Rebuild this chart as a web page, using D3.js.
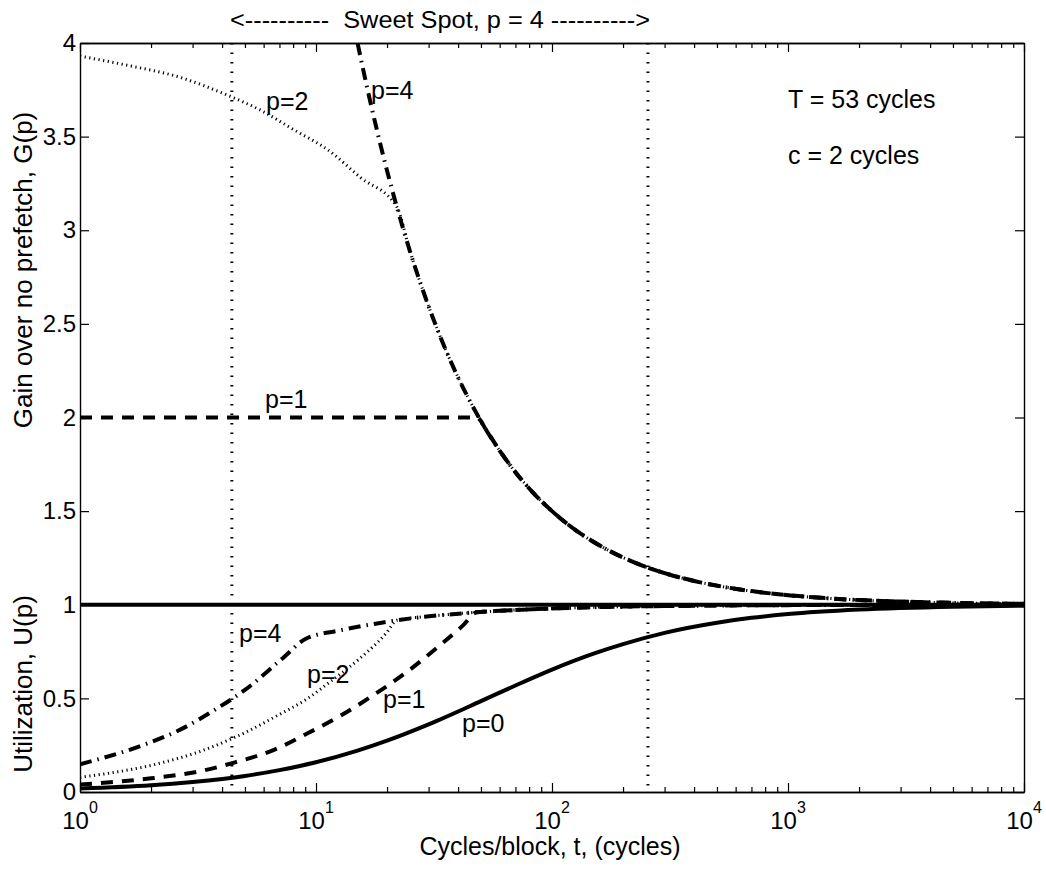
<!DOCTYPE html>
<html><head><meta charset="utf-8">
<script src="https://cdn.jsdelivr.net/npm/d3@7"></script>
<style>
body{margin:0;background:#fff}
text{font-family:"Liberation Sans",Arial,Helvetica,sans-serif;fill:#000}
</style></head>
<body><svg id="c" width="1046" height="869"></svg>
<script>
// ---------- data ----------
const xDecades = [1, 10, 100, 1000, 10000];
const xExponents = ["0", "1", "2", "3", "4"];
const yTicks = [0, 0.5, 1, 1.5, 2, 2.5, 3, 3.5, 4];
const sweetSpot = [4.4, 255];

// Gain over no prefetch, G(p)
const gainP0 = [[1, 1], [10000, 1]];
const gainEnvelope = [[13, 4.4], [15, 4.0], [18, 3.55], [22, 3.125], [25, 2.889], [30, 2.594], [35, 2.378], [40, 2.214], [48, 2.02], [53, 1.927], [60, 1.823], [70, 1.708], [85, 1.586], [100, 1.5], [130, 1.386], [160, 1.315], [200, 1.252], [255, 1.198], [300, 1.169], [400, 1.127], [500, 1.102], [700, 1.073], [1000, 1.051], [1500, 1.034], [2000, 1.025], [3000, 1.017], [5000, 1.010], [10000, 1.005]];
const gainP1Head = [[1, 2], [48, 2]];
const gainP2Head = [[1, 3.93], [1.6, 3.88], [2.6, 3.82], [4.24, 3.72], [5.84, 3.64], [8.1, 3.535], [11.2, 3.43], [15.5, 3.28], [22, 3.125]];

// Utilization, U(p)
const utilP0 = [[1, 0.0185], [2, 0.036], [3, 0.054], [5, 0.086], [7, 0.117], [10, 0.159], [15, 0.221], [20, 0.274], [30, 0.361], [50, 0.485], [70, 0.569], [100, 0.654], [150, 0.739], [200, 0.79], [300, 0.85], [500, 0.904], [700, 0.93], [1000, 0.95], [2000, 0.974], [5000, 0.9896], [10000, 0.9947]];
const utilEnvelope = [[9.1, 0.82], [12.6, 0.863], [18.7, 0.903], [22, 0.917], [29.5, 0.937], [35, 0.946], [48, 0.96], [70, 0.972], [100, 0.98], [150, 0.987], [200, 0.99], [300, 0.993], [500, 0.996], [1000, 0.998], [3000, 0.999], [10000, 1.0]];
const utilP1Head = [[1, 0.04], [2, 0.073], [3.2, 0.11], [4.5, 0.157], [6.6, 0.224], [9.1, 0.31], [12.6, 0.405], [17.4, 0.515], [24.2, 0.64], [33.6, 0.785], [42, 0.89], [48, 0.96]];
const utilP2Head = [[1, 0.078], [2.2, 0.155], [3.2, 0.215], [4.24, 0.276], [5.1, 0.322], [6.6, 0.397], [9.1, 0.495], [11.8, 0.6], [15.3, 0.712], [19.9, 0.85], [22, 0.917]];
const utilP4Head = [[1, 0.148], [1.9, 0.256], [2.6, 0.327], [3.84, 0.449], [5.0, 0.545], [7.25, 0.716], [9.1, 0.82]];

// ---------- layout ----------
const L = 80, R = 1024, T = 43, B = 792;
const svg = d3.select("#c");
const x = d3.scaleLog().domain([1, 10000]).range([L, R]);
const y = d3.scaleLinear().domain([0, 4]).range([B, T]);

svg.append("defs").append("clipPath").attr("id", "plot")
  .append("rect").attr("x", L).attr("y", T).attr("width", R - L).attr("height", B - T);

const after = (arr, t0) => arr.filter(d => d[0] > t0);
const series = [
  {d: gainP0, s: "solid"},
  {d: gainP1Head.concat(after(gainEnvelope, 48)), s: "dashed"},
  {d: gainP2Head.concat(after(gainEnvelope, 22)), s: "dotted"},
  {d: gainEnvelope, s: "dashdot"},
  {d: utilP0, s: "solid"},
  {d: utilP1Head.concat(after(utilEnvelope, 48)), s: "dashed"},
  {d: utilP2Head.concat(after(utilEnvelope, 22)), s: "dotted"},
  {d: utilP4Head.concat(after(utilEnvelope, 9.1)), s: "dashdot"}
];
const styles = {
  solid: {w: 4, da: null},
  dashed: {w: 4, da: "12,9"},
  dotted: {w: 3, da: "1.2,3.5"},
  dashdot: {w: 4, da: "12,6,1.5,6"}
};

const plot = svg.append("g").attr("clip-path", "url(#plot)");

// sweet spot verticals
plot.selectAll("line.ss").data(sweetSpot).join("line")
  .attr("x1", d => x(d)).attr("x2", d => x(d)).attr("y1", T).attr("y2", B)
  .attr("stroke", "#000").attr("stroke-width", 3).attr("stroke-dasharray", "1.5,8");

const line = d3.line().x(d => x(d[0])).y(d => y(d[1])).curve(d3.curveMonotoneX);
plot.selectAll("path.s").data(series).join("path")
  .attr("d", d => line(d.d)).attr("fill", "none").attr("stroke", "#000")
  .attr("stroke-width", d => styles[d.s].w)
  .attr("stroke-dasharray", d => styles[d.s].da)
  .attr("stroke-linecap", "butt").attr("stroke-linejoin", "round");

// ---------- axes ----------
const minors = [];
for (let e = 0; e < 4; e++) for (let k = 2; k <= 9; k++) minors.push(k * Math.pow(10, e));
function style(g) {
  g.selectAll("path.domain").attr("stroke", "#000").attr("stroke-width", 1.4);
  g.selectAll(".tick line").attr("stroke", "#000").attr("stroke-width", 1.2);
  g.selectAll("text").attr("font-size", 24).attr("font-family", "Liberation Sans, Arial, sans-serif");
}
svg.append("g").attr("transform", `translate(0,${B})`)
  .call(d3.axisBottom(x).tickValues(xDecades).tickSize(-9).tickSizeOuter(0).tickFormat("")).call(style);
svg.append("g").attr("transform", `translate(0,${B})`)
  .call(d3.axisBottom(x).tickValues(minors).tickSize(-5).tickSizeOuter(0).tickFormat("")).call(style);
svg.append("g").attr("transform", `translate(0,${T})`)
  .call(d3.axisTop(x).tickValues(xDecades).tickSize(-9).tickSizeOuter(0).tickFormat("")).call(style);
svg.append("g").attr("transform", `translate(0,${T})`)
  .call(d3.axisTop(x).tickValues(minors).tickSize(-5).tickSizeOuter(0).tickFormat("")).call(style);
svg.append("g").attr("transform", `translate(${L},0)`)
  .call(d3.axisLeft(y).tickValues(yTicks).tickSize(-9).tickSizeOuter(0).tickPadding(4).tickFormat(d => String(d))).call(style);
svg.append("g").attr("transform", `translate(${R},0)`)
  .call(d3.axisRight(y).tickValues(yTicks).tickSize(-9).tickSizeOuter(0).tickFormat("")).call(style);

// x tick labels 10^n
const xl = svg.append("g").selectAll("text").data(xDecades).join("text")
  .attr("x", d => x(d)).attr("y", 829).attr("text-anchor", "middle");
xl.append("tspan").attr("font-size", 24).text("10");
xl.append("tspan").attr("font-size", 16).attr("dy", -16).text((d, i) => xExponents[i]);

// ---------- texts ----------
const txt = (s, xx, yy, size, anchor) => svg.append("text").attr("x", xx).attr("y", yy)
  .attr("font-size", size).attr("text-anchor", anchor || "start").style("white-space", "pre").text(s);

txt("<----------  Sweet Spot, p = 4 ---------->", 230, 28, 24).attr("textLength", 420).attr("lengthAdjust", "spacingAndGlyphs");
txt("T = 53 cycles", 788, 108, 25);
txt("c = 2 cycles", 788, 164, 25);
txt("p=2", 266, 110, 25);
txt("p=4", 371, 99, 25);
txt("p=1", 265, 408, 25);
txt("p=4", 239, 642, 25);
txt("p=2", 307, 683, 25);
txt("p=1", 383, 708, 25);
txt("p=0", 462, 732, 25);
txt("Cycles/block, t, (cycles)", 550, 855, 25, "middle");
svg.append("text").attr("transform", "translate(32,270) rotate(-90)").attr("text-anchor", "middle")
  .attr("font-size", 26).text("Gain over no prefetch, G(p)");
svg.append("text").attr("transform", "translate(32,684) rotate(-90)").attr("text-anchor", "middle")
  .attr("font-size", 26).text("Utilization, U(p)");
</script></body></html>
